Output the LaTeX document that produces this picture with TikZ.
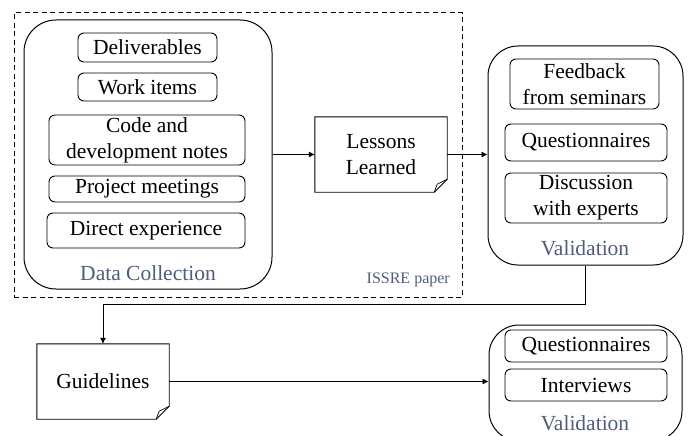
\documentclass[tikz,border=0pt]{standalone}
\usepackage{fontspec}
\setmainfont{Liberation Serif}
\usepackage{xcolor}
\usepackage{tikz}
\usetikzlibrary{arrows.meta}
\definecolor{labelcol}{HTML}{4D5D7D}

\begin{document}
\begin{tikzpicture}[
    x=1pt, y=-1pt,
    every node/.style={font=\fontsize{21.5pt}{26pt}\selectfont, inner sep=0pt},
    group/.style={draw, rounded corners=32pt, line width=1pt},
    item/.style={draw, rounded corners=6pt, line width=0.9pt, align=center},
    doc/.style={align=center},
    tag/.style={text=labelcol},
    arr/.style={-{Latex[length=6pt, width=6pt]}, line width=0.7pt},
  ]
    \useasboundingbox (0,0) rectangle (688,436);

    % ISSRE paper frame
    \node[draw, dash pattern=on 5pt off 3.5pt, line width=1pt, minimum width=448pt, minimum height=284pt] (issre) at (238,155) {};
    \node[tag, anchor=east, font=\fontsize{16pt}{19pt}\selectfont] (issrelab) at (450,280) {ISSRE paper};

    % data collection
    \node[group, minimum width=248pt, minimum height=269pt] (dc) at (148,154.5) {};
    \node[item, minimum width=139pt, minimum height=29pt] (deliv) at (147.5,47.5) {Deliverables};
    \node[item, minimum width=139pt, minimum height=28pt] (work) at (147.5,87) {Work items};
    \node[item, minimum width=196pt, minimum height=50pt] (code) at (147,140) {Code and\\development notes};
    \node[item, minimum width=196pt, minimum height=26pt] (meet) at (147,189) {Project meetings};
    \node[item, minimum width=198pt, minimum height=35pt] (direct) at (146,230.5) {Direct experience};
    \node[tag] (dclab) at (148,273) {Data Collection};

    % lessons learned
    \node[doc, minimum width=132pt, minimum height=75pt] (lessons) at (381,154.5) {Lessons\\Learned};
    \draw[line width=0.9pt] (lessons.north west) -- (lessons.north east)
      -- ([yshift=13pt]lessons.south east) -- ([xshift=-13pt]lessons.south east)
      -- (lessons.south west) -- cycle;
    \draw[line width=0.7pt] ([xshift=-13pt]lessons.south east) -- ([xshift=-10pt, yshift=8pt]lessons.south east)
      -- ([yshift=13pt]lessons.south east);

    % first validation
    \node[group, rounded corners=30pt, minimum width=195pt, minimum height=219pt] (val) at (585.5,155.5) {};
    \node[item, minimum width=149pt, minimum height=50pt] (feed) at (584.5,84) {Feedback\\from seminars};
    \node[item, minimum width=162pt, minimum height=37pt] (quest) at (586,142.5) {Questionnaires};
    \node[item, minimum width=162pt, minimum height=50pt] (disc) at (586,198) {Discussion\\with experts};
    \node[tag] (vallab) at (585,248) {Validation};

    % guidelines
    \node[doc, minimum width=132pt, minimum height=75pt] (guide) at (103,381.5) {Guidelines};
    \draw[line width=0.9pt] (guide.north west) -- (guide.north east)
      -- ([yshift=13pt]guide.south east) -- ([xshift=-13pt]guide.south east)
      -- (guide.south west) -- cycle;
    \draw[line width=0.7pt] ([xshift=-13pt]guide.south east) -- ([xshift=-10pt, yshift=8pt]guide.south east)
      -- ([yshift=13pt]guide.south east);

    % second validation
    \node[group, rounded corners=30pt, minimum width=193pt, minimum height=116pt] (valtwo) at (585.5,383) {};
    \node[item, minimum width=162pt, minimum height=32pt] (questtwo) at (586,346) {Questionnaires};
    \node[item, minimum width=162pt, minimum height=32pt] (interv) at (586,385) {Interviews};
    \node[tag] (valtwolab) at (585,423) {Validation};

    \draw[arr] (dc.east) -- (lessons.west);
    \draw[arr] (lessons.east) -- (lessons.east -| val.west);
    \draw[arr] (val.south) -- ++(0,39) -| (guide.north);
    \draw[arr] (guide.east) -- (guide.east -| valtwo.west);
  \end{tikzpicture}
\end{document}
